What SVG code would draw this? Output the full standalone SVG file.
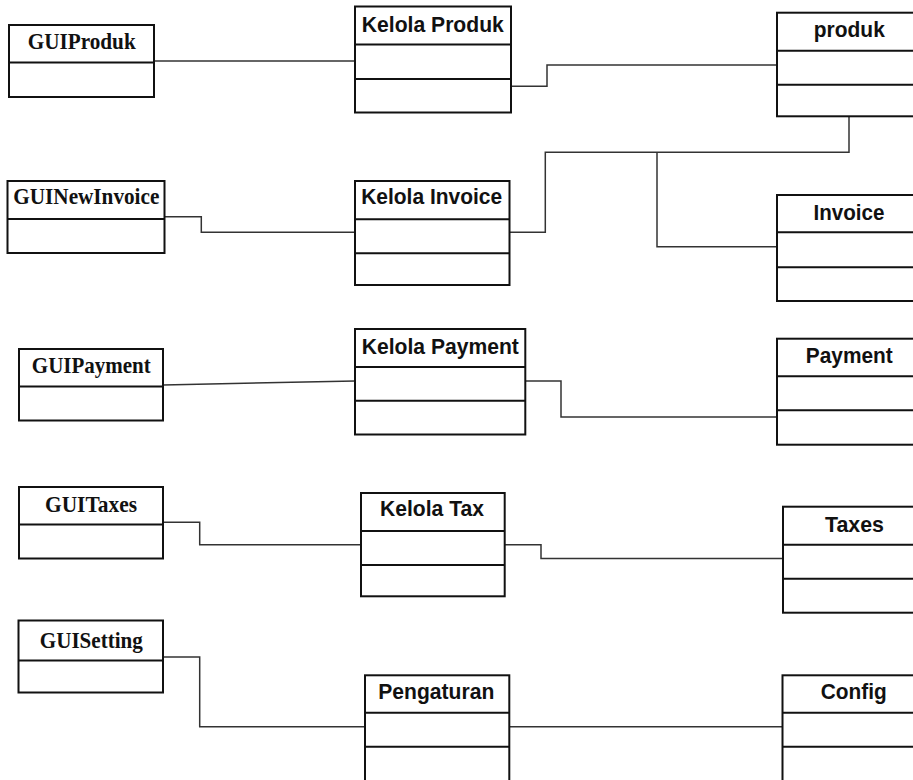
<svg xmlns="http://www.w3.org/2000/svg" width="913" height="780" viewBox="0 0 913 780">
<style>
.box{fill:#fff;stroke:#111;stroke-width:2}
.div{stroke:#111;stroke-width:2}
.con{fill:none;stroke:#333;stroke-width:1.5}
.gui{font-family:"Liberation Serif","Times New Roman",serif;font-weight:bold;font-size:22.5px;fill:#111;text-anchor:middle}
.cls{font-family:"Liberation Sans",Arial,sans-serif;font-weight:bold;font-size:21.5px;fill:#111;text-anchor:middle}
</style>
<rect width="913" height="780" fill="#fff"/>
<g id="connectors">
<path class="con" d="M153.7 61 H355"/>
<path class="con" d="M511 86.3 H547 V65 H777"/>
<path class="con" d="M849 116.3 V152.3 H545.3 V232.3 H509.5"/>
<path class="con" d="M657 152.3 V246.7 H777"/>
<path class="con" d="M164.7 216.7 H201.3 V232.3 H355"/>
<path class="con" d="M163 385 L355 381"/>
<path class="con" d="M525.3 381 H561 V417 H777"/>
<path class="con" d="M163 522.3 H199.7 V544.7 H361"/>
<path class="con" d="M504.7 544.7 H541 V558.5 H783"/>
<path class="con" d="M163 657 H199.7 V726.7 H365"/>
<path class="con" d="M509.3 726.7 H782.5"/>
</g>
<g id="GUIProduk">
<rect class="box" x="9" y="25" width="145" height="72"/>
<line class="div" x1="9" y1="62.5" x2="154" y2="62.5"/>
<text class="gui" x="81.7" y="49.3" textLength="108" lengthAdjust="spacingAndGlyphs">GUIProduk</text>
</g>
<g id="GUINewInvoice">
<rect class="box" x="7.5" y="181" width="157" height="72"/>
<line class="div" x1="7.5" y1="219" x2="164.5" y2="219"/>
<text class="gui" x="86.3" y="204.3" textLength="146" lengthAdjust="spacingAndGlyphs">GUINewInvoice</text>
</g>
<g id="GUIPayment">
<rect class="box" x="19" y="349" width="144" height="71.5"/>
<line class="div" x1="19" y1="386.5" x2="163" y2="386.5"/>
<text class="gui" x="91.3" y="373.3" textLength="119" lengthAdjust="spacingAndGlyphs">GUIPayment</text>
</g>
<g id="GUITaxes">
<rect class="box" x="19" y="487" width="144" height="71.5"/>
<line class="div" x1="19" y1="524.5" x2="163" y2="524.5"/>
<text class="gui" x="91" y="512.3" textLength="92" lengthAdjust="spacingAndGlyphs">GUITaxes</text>
</g>
<g id="GUISetting">
<rect class="box" x="18.5" y="620.5" width="144.5" height="72"/>
<line class="div" x1="18.5" y1="660.5" x2="163" y2="660.5"/>
<text class="gui" x="91.3" y="647.7" textLength="103" lengthAdjust="spacingAndGlyphs">GUISetting</text>
</g>
<g id="KelolaProduk">
<rect class="box" x="355" y="6.5" width="156" height="106"/>
<line class="div" x1="355" y1="44.5" x2="511" y2="44.5"/>
<line class="div" x1="355" y1="79" x2="511" y2="79"/>
<text class="cls" x="432.8" y="32.3" textLength="142" lengthAdjust="spacingAndGlyphs">Kelola Produk</text>
</g>
<g id="KelolaInvoice">
<rect class="box" x="355" y="181" width="154.5" height="104"/>
<line class="div" x1="355" y1="219.3" x2="509.5" y2="219.3"/>
<line class="div" x1="355" y1="253.3" x2="509.5" y2="253.3"/>
<text class="cls" x="431.7" y="204" textLength="141" lengthAdjust="spacingAndGlyphs">Kelola Invoice</text>
</g>
<g id="KelolaPayment">
<rect class="box" x="355" y="329" width="170.3" height="105.5"/>
<line class="div" x1="355" y1="367" x2="525.3" y2="367"/>
<line class="div" x1="355" y1="400.7" x2="525.3" y2="400.7"/>
<text class="cls" x="440.3" y="353.7" textLength="157" lengthAdjust="spacingAndGlyphs">Kelola Payment</text>
</g>
<g id="KelolaTax">
<rect class="box" x="361" y="493" width="143.7" height="103.3"/>
<line class="div" x1="361" y1="531" x2="504.7" y2="531"/>
<line class="div" x1="361" y1="565" x2="504.7" y2="565"/>
<text class="cls" x="432" y="516" textLength="104" lengthAdjust="spacingAndGlyphs">Kelola Tax</text>
</g>
<g id="Pengaturan">
<rect class="box" x="365" y="675.3" width="144.3" height="110"/>
<line class="div" x1="365" y1="712.7" x2="509.3" y2="712.7"/>
<line class="div" x1="365" y1="746.7" x2="509.3" y2="746.7"/>
<text class="cls" x="436.3" y="699" textLength="116" lengthAdjust="spacingAndGlyphs">Pengaturan</text>
</g>
<g id="produk">
<rect class="box" x="777" y="12.7" width="150" height="103.6"/>
<line class="div" x1="777" y1="50.7" x2="927" y2="50.7"/>
<line class="div" x1="777" y1="84.7" x2="927" y2="84.7"/>
<text class="cls" x="849.3" y="37.3" textLength="71" lengthAdjust="spacingAndGlyphs">produk</text>
</g>
<g id="Invoice">
<rect class="box" x="777" y="195" width="150" height="106"/>
<line class="div" x1="777" y1="232.3" x2="927" y2="232.3"/>
<line class="div" x1="777" y1="267.3" x2="927" y2="267.3"/>
<text class="cls" x="849" y="220" textLength="71" lengthAdjust="spacingAndGlyphs">Invoice</text>
</g>
<g id="Payment">
<rect class="box" x="777" y="338.7" width="150" height="106"/>
<line class="div" x1="777" y1="376.3" x2="927" y2="376.3"/>
<line class="div" x1="777" y1="410.3" x2="927" y2="410.3"/>
<text class="cls" x="849.3" y="363.3" textLength="87" lengthAdjust="spacingAndGlyphs">Payment</text>
</g>
<g id="Taxes">
<rect class="box" x="783" y="506.7" width="150" height="106"/>
<line class="div" x1="783" y1="544.7" x2="933" y2="544.7"/>
<line class="div" x1="783" y1="578.7" x2="933" y2="578.7"/>
<text class="cls" x="854.5" y="531.7" textLength="59" lengthAdjust="spacingAndGlyphs">Taxes</text>
</g>
<g id="Config">
<rect class="box" x="782.5" y="675.3" width="150" height="110"/>
<line class="div" x1="782.5" y1="712.7" x2="932.5" y2="712.7"/>
<line class="div" x1="782.5" y1="746.7" x2="932.5" y2="746.7"/>
<text class="cls" x="853.7" y="699.3" textLength="66" lengthAdjust="spacingAndGlyphs">Config</text>
</g>
</svg>
